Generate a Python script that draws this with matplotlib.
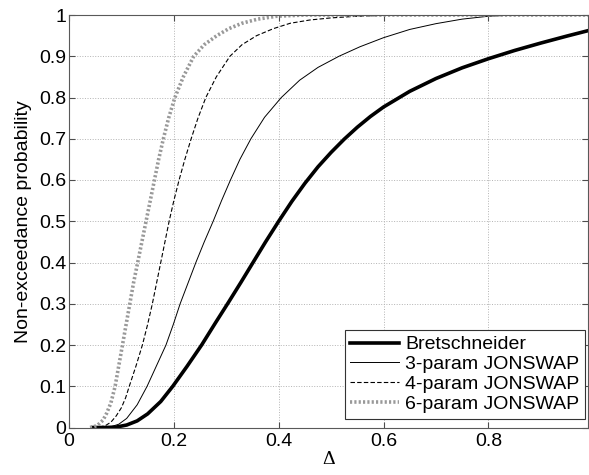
import matplotlib
matplotlib.use("Agg")
from matplotlib import pyplot as plt
from matplotlib.ticker import FixedLocator, FuncFormatter

# values
bret_x = [0.045, 0.07, 0.09, 0.11, 0.13, 0.15, 0.175, 0.198, 0.225, 0.253, 0.28, 0.304, 0.328,
          0.351, 0.375, 0.4, 0.425, 0.45, 0.475, 0.5, 0.525, 0.55, 0.575, 0.6, 0.65, 0.7,
          0.75, 0.8, 0.85, 0.9, 0.95, 0.99]
bret_y = [0.0, 0.0, 0.001, 0.006, 0.016, 0.033, 0.063, 0.1, 0.148, 0.2, 0.255, 0.303, 0.352,
          0.4, 0.45, 0.5, 0.548, 0.592, 0.632, 0.667, 0.699, 0.728, 0.754, 0.777, 0.815, 0.846,
          0.872, 0.894, 0.914, 0.932, 0.949, 0.962]

jon3_x = [0.045, 0.06, 0.078, 0.095, 0.11, 0.13, 0.149, 0.167, 0.185, 0.199, 0.212, 0.227,
          0.242, 0.258, 0.275, 0.291, 0.308, 0.326, 0.347, 0.373, 0.405, 0.44, 0.475,
          0.515, 0.555, 0.6, 0.65, 0.7, 0.75, 0.8, 0.85, 0.99]
jon3_y = [0.0, 0.0, 0.001, 0.008, 0.022, 0.055, 0.1, 0.15, 0.2, 0.25, 0.3, 0.35,
          0.4, 0.45, 0.5, 0.55, 0.6, 0.65, 0.7, 0.752, 0.8, 0.842, 0.873,
          0.9, 0.923, 0.945, 0.965, 0.979, 0.99, 0.997, 1.0, 1.0]

jon4_x = [0.045, 0.059, 0.07, 0.08, 0.09, 0.1, 0.108, 0.115, 0.128, 0.14, 0.15, 0.159,
          0.167, 0.175, 0.183, 0.191, 0.2, 0.21, 0.221, 0.233, 0.246, 0.261, 0.281,
          0.307, 0.33, 0.358, 0.39, 0.422, 0.46, 0.5, 0.55, 0.6, 0.7, 0.99]
jon4_y = [0.0, 0.001, 0.005, 0.013, 0.028, 0.048, 0.072, 0.1, 0.15, 0.2, 0.25, 0.3,
          0.35, 0.4, 0.45, 0.5, 0.55, 0.6, 0.65, 0.7, 0.75, 0.8, 0.85,
          0.9, 0.928, 0.95, 0.967, 0.98, 0.988, 0.993, 0.997, 0.999, 1.0, 1.0]

jon6_x = [0.04, 0.046, 0.055, 0.065, 0.072, 0.08, 0.088, 0.095, 0.102, 0.109, 0.116,
          0.123, 0.131, 0.139, 0.147, 0.155, 0.163, 0.171, 0.18, 0.19, 0.202, 0.218,
          0.238, 0.258, 0.282, 0.305, 0.33, 0.36, 0.396, 0.45, 0.99]
jon6_y = [0.0, 0.001, 0.006, 0.018, 0.035, 0.06, 0.1, 0.15, 0.2, 0.25, 0.3,
          0.35, 0.4, 0.45, 0.5, 0.55, 0.6, 0.65, 0.7, 0.75, 0.8, 0.85,
          0.9, 0.928, 0.95, 0.967, 0.98, 0.99, 0.997, 1.0, 1.0]

labels = ['Bretschneider', '3-param JONSWAP', '4-param JONSWAP', '6-param JONSWAP']
xticks = [0, 0.2, 0.4, 0.6, 0.8]
yticks = [0, 0.1, 0.2, 0.3, 0.4, 0.5, 0.6, 0.7, 0.8, 0.9, 1.0]

plt.rcParams['font.family'] = ['Liberation Sans', 'DejaVu Sans']

W, H = 589, 475
fig = plt.figure(figsize = (W / 100, H / 100), dpi = 100)
ax = fig.add_axes([69 / W, 1 - 427.5 / H, (588 - 69) / W, (427.5 - 15) / H])

ax.plot(bret_x, bret_y, color = 'black', lw = 2.6, label = labels[0])
ax.plot(jon3_x, jon3_y, color = 'black', lw = 0.7, label = labels[1])
ax.plot(jon4_x, jon4_y, color = 'black', lw = 0.8, ls = (0, (4, 2)), label = labels[2])
ax.plot(jon6_x, jon6_y, color = '0.6', lw = 2.6, ls = (0, (0.6, 0.6)), label = labels[3])

ax.set_xlim(0, 0.99)
ax.set_ylim(0, 1)
ax.xaxis.set_major_locator(FixedLocator(xticks))
ax.yaxis.set_major_locator(FixedLocator(yticks))
fmt = FuncFormatter(lambda v, p: ('%g' % round(v, 2)))
ax.xaxis.set_major_formatter(fmt)
ax.yaxis.set_major_formatter(fmt)

ax.tick_params(direction = 'in', top = True, right = True, labelsize = 14, length = 4,
               color = '0.3')
ax.tick_params(axis = 'y', pad = 2)
ax.tick_params(axis = 'x', pad = 4)
ax.grid(True, ls = ':', color = '0.7', lw = 0.7)
for s in ax.spines.values():
    s.set_color('0.35')
    s.set_linewidth(0.8)

ax.set_xlabel('Δ', fontsize = 14, family = 'Liberation Serif', va = 'center')
ax.xaxis.set_label_coords(0.5, -0.078)
ax.set_ylabel('Non-exceedance probability', fontsize = 14, labelpad = 5)

leg = ax.legend(loc = 'lower right', bbox_to_anchor = (585 / W, 1 - 419 / H),
                bbox_transform = fig.transFigure, borderaxespad = 0,
                fontsize = 14, frameon = True, fancybox = False,
                handlelength = 2.5, handletextpad = 0.3,
                labelspacing = 0.12, borderpad = 0.3)
leg.get_frame().set_edgecolor('0.2')
leg.get_frame().set_linewidth(0.8)
leg.get_frame().set_alpha(1)

fig.savefig('out.png', dpi = 100)
